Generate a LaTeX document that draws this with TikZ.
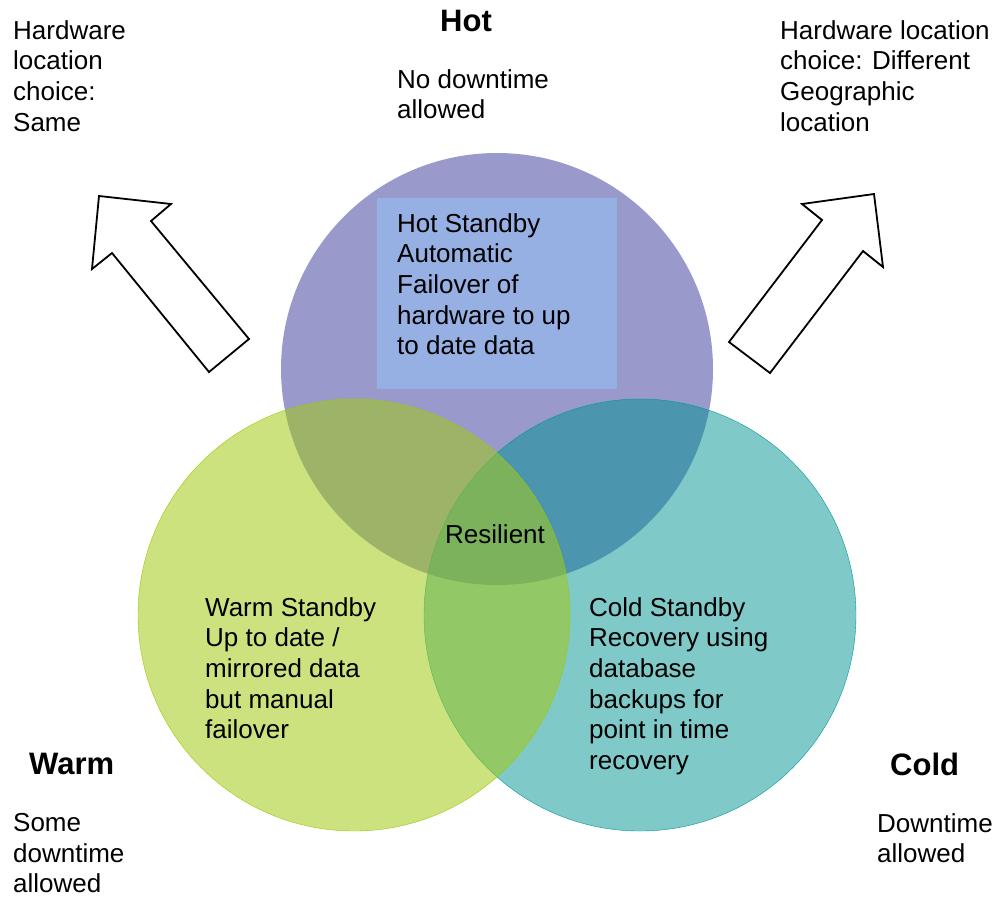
\documentclass[tikz,border=0pt]{standalone}
\usepackage{fontspec}
\setmainfont{Liberation Sans}
\usepackage{tikz}
\usetikzlibrary{arrows,shapes,positioning}
\definecolor{hotfill}{RGB}{153,153,204}
\definecolor{boxfill}{RGB}{151,176,227}
\definecolor{warmfill}{RGB}{162,202,22}
\definecolor{warmline}{RGB}{153,204,0}
\definecolor{coldfill}{RGB}{0,147,147}
\definecolor{coldline}{RGB}{0,153,153}
\begin{document}
\begin{tikzpicture}[x=1pt,y=1pt,
                txt/.style={anchor=north west,align=left,inner sep=0pt,font=\fontsize{26}{30.7}\selectfont},
                ttl/.style={anchor=north west,inner sep=0pt,font=\fontsize{31}{34}\selectfont\bfseries},
                ring/.style={circle,minimum size=432pt,inner sep=0pt}]
                \useasboundingbox (0,0) rectangle (998,-898);
                \node [ring,fill=hotfill] (hot) at (497,-369) {};
                \node [anchor=north west,fill=boxfill,minimum width=240pt,minimum height=191pt] (hotbox) at (377,-198) {};
                \node [ring,draw=coldline,fill=coldfill,fill opacity=0.5] (cold) at (640,-615) {};
                \node [ring,draw=warmline,fill=warmfill,fill opacity=0.55] (warm) at (354,-615) {};
                \draw [black,line width=1.8pt,fill=white] (99,-196) -- (171,-204) -- (151,-221) -- (249,-339) -- (209,-372) -- (112,-253) -- (92,-269) -- cycle;
                \draw [black,line width=1.8pt,fill=white] (874,-194) -- (883,-267) -- (863,-251) -- (770,-373) -- (729,-342) -- (822,-220) -- (802,-204) -- cycle;
                \node [ttl] (hottitle) at (440,-10) {Hot};
                \node [txt] (hotnote) at (397,-69) {No downtime\\allowed};
                \node [txt] (sameloc) at (13,-20) {Hardware\\location\\choice:\\Same};
                \node [txt] (diffloc) at (780,-20) {Hardware location\\choice: Different\\Geographic\\location};
                \node [txt] (hotstandby) at (397,-213) {Hot Standby\\Automatic\\Failover of\\hardware to up\\to date data};
                \node [txt] (resilient) at (445,-524) {Resilient};
                \node [txt] (warmstandby) at (205,-597) {Warm Standby\\Up to date /\\mirrored data\\but manual\\failover};
                \node [txt] (coldstandby) at (589,-597) {Cold Standby\\Recovery using\\database\\backups for\\point in time\\recovery};
                \node [ttl] (warmtitle) at (29,-753) {Warm};
                \node [txt] (warmnote) at (13,-813) {Some\\downtime\\allowed};
                \node [ttl] (coldtitle) at (890,-753) {Cold};
                \node [txt] (coldnote) at (877,-813) {Downtime\\allowed};
\end{tikzpicture}
\end{document}
